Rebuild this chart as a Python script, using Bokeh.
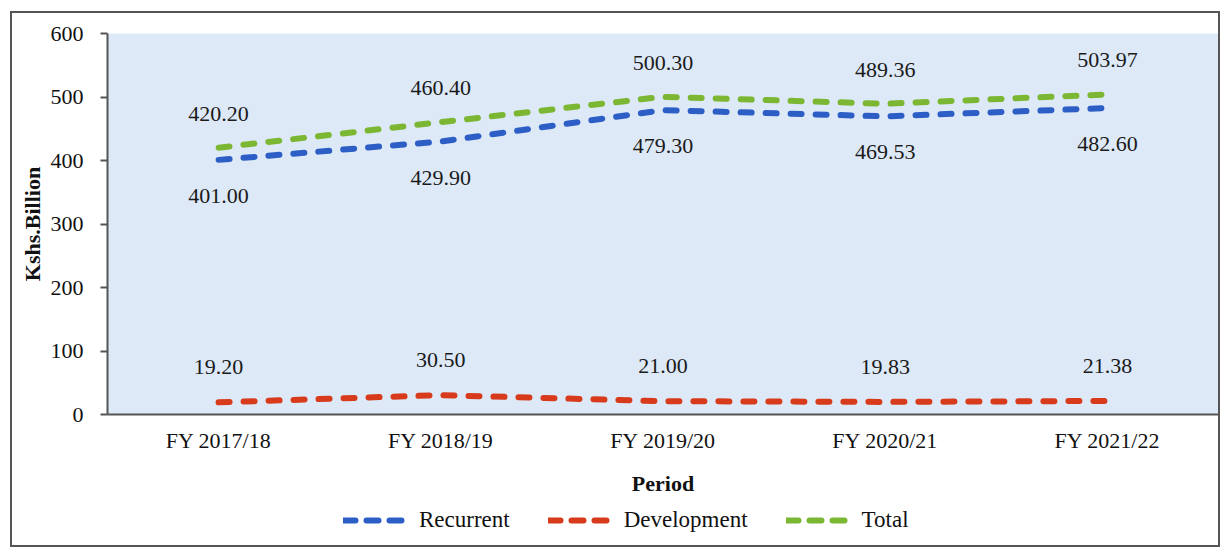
from bokeh.plotting import figure
from bokeh.layouts import column
from bokeh.models import ColumnDataSource, Legend, LegendItem, Range1d, FactorRange, LabelSet, SingleIntervalTicker
from bokeh.embed import file_html
from bokeh.resources import INLINE
from bokeh.core.properties import value

periods = ["FY 2017/18", "FY 2018/19", "FY 2019/20", "FY 2020/21", "FY 2021/22"]
recurrent = [401.00, 429.90, 479.30, 469.53, 482.60]
development = [19.20, 30.50, 21.00, 19.83, 21.38]
total = [420.20, 460.40, 500.30, 489.36, 503.97]
series_names = ["Recurrent", "Development", "Total"]
series_colors = ["#2c5ec6", "#d83a1c", "#7cb733"]

FONT = "Liberation Serif"
FS = "22px"
DASH = "11 14"

xr = FactorRange(*periods, range_padding=0)
p = figure(width=1206, height=487, x_range=xr,
           y_range=Range1d(0, 600), output_backend="svg", toolbar_location=None,
           min_border_left=95, min_border_right=0, min_border_top=20, min_border_bottom=86)
p.background_fill_color = "#dde9f7"
p.border_fill_color = "white"
p.outline_line_color = None
p.xgrid.grid_line_color = None
p.ygrid.grid_line_color = None

src = ColumnDataSource(dict(x=periods, rec=recurrent, dev=development, tot=total,
                            rec_l=["%.2f" % v for v in recurrent],
                            dev_l=["%.2f" % v for v in development],
                            tot_l=["%.2f" % v for v in total]))

cols = ["rec", "dev", "tot"]
for col, color in zip(cols, series_colors):
    p.line("x", col, source=src, line_color=color, line_width=6, line_dash=DASH, line_cap="round")

for col, lab, off in [("tot", "tot_l", 34), ("rec", "rec_l", -36), ("dev", "dev_l", 35)]:
    p.add_layout(LabelSet(x="x", y=col, text=lab, source=src, y_offset=off, text_align="center",
                          text_baseline="middle", text_font=value(FONT), text_font_size=FS,
                          text_color="#1a1a1a"))

p.yaxis.ticker = SingleIntervalTicker(interval=100)
p.yaxis.axis_label = "Kshs.Billion"
p.yaxis.axis_label_text_font = FONT
p.yaxis.axis_label_text_font_style = "bold"
p.yaxis.axis_label_text_font_size = FS
p.yaxis.axis_label_text_color = "#111111"
p.yaxis.major_label_text_font = FONT
p.yaxis.major_label_text_font_size = FS
p.yaxis.major_label_text_color = "#111111"
p.yaxis.axis_line_color = "#555555"
p.yaxis.axis_line_width = 2
p.yaxis.major_tick_line_color = "#555555"
p.yaxis.major_tick_line_width = 2
p.yaxis.major_tick_out = 7
p.yaxis.major_tick_in = 0
p.yaxis.minor_tick_line_color = None
p.yaxis.major_label_standoff = 17
p.yaxis.axis_label_standoff = 3

p.xaxis.axis_label = "Period"
p.xaxis.axis_label_text_font = FONT
p.xaxis.axis_label_text_font_style = "bold"
p.xaxis.axis_label_text_font_size = FS
p.xaxis.axis_label_text_color = "#111111"
p.xaxis.major_label_text_font = FONT
p.xaxis.major_label_text_font_size = FS
p.xaxis.major_label_text_color = "#111111"
p.xaxis.axis_line_color = "#555555"
p.xaxis.axis_line_width = 2
p.xaxis.major_tick_line_color = None
p.xaxis.major_label_standoff = 7
p.xaxis.axis_label_standoff = 15

# legend strip (series drawn off-screen through a shifted y range so only the legend shows)
p2 = figure(width=1206, height=45, x_range=xr, y_range=Range1d(-2000, -1000),
            output_backend="svg", toolbar_location=None,
            min_border_left=0, min_border_right=0, min_border_top=0, min_border_bottom=0)
p2.axis.visible = False
p2.grid.visible = False
p2.outline_line_color = None
p2.background_fill_color = "white"
p2.border_fill_color = "white"
items = []
for name, col, color in zip(series_names, cols, series_colors):
    r = p2.line("x", col, source=src, line_color=color, line_width=6, line_dash="12 11", line_cap="round")
    items.append(LegendItem(label=name, renderers=[r]))
legend = Legend(items=items, orientation="horizontal", location=(236, 12),
                label_text_font=FONT, label_text_font_size="23px", label_text_color="#111111",
                glyph_width=68, glyph_height=22, spacing=38, label_standoff=8,
                border_line_color=None, background_fill_alpha=0, margin=0, padding=0)
p2.add_layout(legend)

layout = column(p, p2, spacing=0,
                styles={"border": "2px solid #555555", "margin-left": "10px", "margin-top": "11px",
                        "background-color": "white"})

open("out.html", "w").write(file_html(layout, INLINE))
